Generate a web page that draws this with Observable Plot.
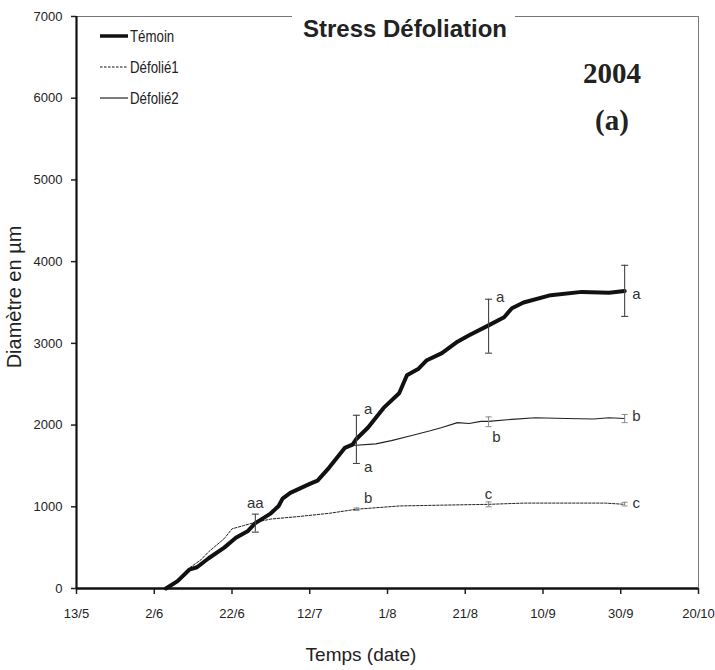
<!DOCTYPE html>
<html><head><meta charset="utf-8">
<script src="https://cdn.jsdelivr.net/npm/d3@7"></script>
<script src="https://cdn.jsdelivr.net/npm/@observablehq/plot@0.6"></script>
<style>
body{margin:0;background:#fff;}
#wrap{position:relative;width:715px;height:670px;overflow:hidden;font-family:"Liberation Sans",Arial,sans-serif;color:#222;}
#wrap > svg{position:absolute;left:0;top:0;}
.ov{position:absolute;white-space:nowrap;line-height:1;}
.mid{transform:translate(-50%,-50%);}
.lft{transform:translateY(-50%) scaleX(0.78);transform-origin:0 50%;}
</style></head><body><div id="wrap"></div>
<script>
// ---------- data ----------
const xTickLabels = ["2004-05-13","2004-06-02","2004-06-22","2004-07-12","2004-08-01","2004-08-21","2004-09-10","2004-09-30","2004-10-20"];
const yTicks = [0,1000,2000,3000,4000,5000,6000,7000];

const temoinDates = ["2004-06-05","2004-06-08","2004-06-11","2004-06-13","2004-06-16","2004-06-20","2004-06-23","2004-06-26","2004-06-28","2004-07-02","2004-07-04","2004-07-05","2004-07-07","2004-07-12","2004-07-14","2004-07-17","2004-07-21","2004-07-23","2004-07-24","2004-07-27","2004-07-31","2004-08-04","2004-08-06","2004-08-09","2004-08-11","2004-08-15","2004-08-19","2004-08-22","2004-08-27","2004-08-31","2004-09-02","2004-09-05","2004-09-12","2004-09-20","2004-09-27","2004-10-01"];
const temoinValues = [0,90,230,260,370,500,620,700,800,920,1010,1100,1170,1280,1320,1480,1720,1760,1830,1970,2210,2390,2610,2690,2790,2880,3020,3100,3220,3320,3430,3500,3590,3630,3620,3640];

const defolie1Dates = ["2004-06-05","2004-06-08","2004-06-11","2004-06-14","2004-06-16","2004-06-20","2004-06-22","2004-06-25","2004-06-28","2004-07-02","2004-07-09","2004-07-17","2004-07-24","2004-08-04","2004-08-15","2004-08-27","2004-09-05","2004-09-19","2004-09-26","2004-10-01"];
const defolie1Values = [0,110,250,350,450,610,730,770,810,850,880,920,970,1010,1020,1030,1045,1045,1045,1030];

const defolie2Dates = ["2004-06-05","2004-06-08","2004-06-11","2004-06-13","2004-06-16","2004-06-20","2004-06-23","2004-06-26","2004-06-28","2004-07-02","2004-07-04","2004-07-05","2004-07-07","2004-07-12","2004-07-14","2004-07-17","2004-07-21","2004-07-23","2004-07-29","2004-08-02","2004-08-07","2004-08-12","2004-08-15","2004-08-19","2004-08-22","2004-08-25","2004-08-27","2004-09-02","2004-09-08","2004-09-16","2004-09-23","2004-09-27","2004-10-01"];
const defolie2Values = [0,90,230,260,370,500,620,700,800,920,1010,1100,1170,1280,1320,1480,1720,1750,1770,1810,1870,1930,1970,2030,2020,2045,2045,2070,2090,2080,2075,2090,2080];

const errDates  = ["2004-06-28","2004-07-24","2004-07-24","2004-08-27","2004-08-27","2004-08-27","2004-10-01","2004-10-01","2004-10-01"];
const errSeries = ["Témoin","Témoin","Défolié1","Témoin","Défolié2","Défolié1","Témoin","Défolié2","Défolié1"];
const errLow    = [690,1530,955,2880,1980,1000,3330,2030,1010];
const errHigh   = [910,2120,985,3540,2100,1060,3955,2130,1055];

const letterDates  = ["2004-06-28","2004-07-27","2004-07-27","2004-07-27","2004-08-30","2004-08-29","2004-08-27","2004-10-04","2004-10-04","2004-10-04"];
const letterValues = [1050,2190,1480,1100,3560,1850,1150,3600,2105,1040];
const letterTexts  = ["aa","a","a","b","a","b","c","a","b","c"];

const seriesNames = ["Témoin","Défolié1","Défolié2"];

// ---------- build ----------
const parse = d3.utcParse("%Y-%m-%d");
const toRows = (ds, vs) => ds.map((d, i) => ({date: parse(d), value: vs[i]}));
const temoin = toRows(temoinDates, temoinValues);
const def1 = toRows(defolie1Dates, defolie1Values);
const def2 = toRows(defolie2Dates, defolie2Values);
const errors = errDates.map((d, i) => ({date: parse(d), series: errSeries[i], low: errLow[i], high: errHigh[i]}));
const errDark = errors.filter(e => e.series === "Témoin");
const errLight = errors.filter(e => e.series !== "Témoin");
const letters = letterDates.map((d, i) => ({date: parse(d), value: letterValues[i], text: letterTexts[i]}));
const xTickDates = xTickLabels.map(parse);

const SANS = '"Liberation Sans",Arial,sans-serif';
const cap = {draw(ctx, size) { const w = Math.sqrt(size / Math.PI); ctx.moveTo(-w, 0); ctx.lineTo(w, 0); }};
const fmt = d => `${d.getUTCDate()}/${d.getUTCMonth() + 1}`;

const chart = Plot.plot({
  width: 715, height: 670,
  marginLeft: 76, marginRight: 17, marginTop: 16, marginBottom: 82,
  style: {fontFamily: SANS, fontSize: "13px", color: "#222", background: "transparent"},
  x: {type: "utc", domain: [xTickDates[0], xTickDates[xTickDates.length - 1]]},
  y: {domain: [yTicks[0], yTicks[yTicks.length - 1]]},
  marks: [
    Plot.frame({stroke: "#777", strokeWidth: 1}),
    Plot.axisY({ticks: yTicks, tickSize: 5, tickPadding: 9, tickFormat: d => String(d), label: null, strokeWidth: 1.5}),
    Plot.axisX({ticks: xTickDates, tickSize: 6, tickPadding: 14, tickFormat: fmt, label: null, strokeWidth: 1.5}),
    Plot.ruleX([xTickDates[0]], {stroke: "#111", strokeWidth: 2.2}),
    Plot.ruleY([yTicks[0]], {stroke: "#111", strokeWidth: 2.6}),
    Plot.line(def1, {x: "date", y: "value", stroke: "#222", strokeWidth: 1, strokeDasharray: "2.5,1.5"}),
    Plot.line(def2, {x: "date", y: "value", stroke: "#222", strokeWidth: 1.1}),
    Plot.line(temoin, {x: "date", y: "value", stroke: "#111", strokeWidth: 4, strokeLinejoin: "round", strokeLinecap: "round"}),
    Plot.ruleX(errDark, {x: "date", y1: "low", y2: "high", stroke: "#444", strokeWidth: 1.1}),
    Plot.dot(errDark, {x: "date", y: "low", symbol: cap, r: 3.5, stroke: "#444", fill: "none", strokeWidth: 1.1}),
    Plot.dot(errDark, {x: "date", y: "high", symbol: cap, r: 3.5, stroke: "#444", fill: "none", strokeWidth: 1.1}),
    Plot.ruleX(errLight, {x: "date", y1: "low", y2: "high", stroke: "#888", strokeWidth: 1}),
    Plot.dot(errLight, {x: "date", y: "low", symbol: cap, r: 3, stroke: "#888", fill: "none", strokeWidth: 1}),
    Plot.dot(errLight, {x: "date", y: "high", symbol: cap, r: 3, stroke: "#888", fill: "none", strokeWidth: 1}),
    Plot.text(letters, {x: "date", y: "value", text: "text", fontSize: 15, fill: "#333", fontFamily: SANS})
  ]
});

const wrap = document.getElementById("wrap");
wrap.appendChild(chart);

function ov(html, cls, style) {
  const el = document.createElement("div");
  el.className = "ov " + cls;
  el.innerHTML = html;
  Object.assign(el.style, style);
  wrap.appendChild(el);
  return el;
}
// title over the frame gap
ov("", "", {left: "292px", top: "8px", width: "223px", height: "18px", background: "#fff"});
ov("Stress Défoliation", "mid", {left: "405px", top: "29px", fontWeight: "bold", fontSize: "24px", color: "#222"});
ov("2004", "mid", {left: "612px", top: "73px", fontFamily: '"Liberation Serif","Times New Roman",serif', fontWeight: "bold", fontSize: "29px", color: "#222"});
ov("(a)", "mid", {left: "612px", top: "120px", fontFamily: '"Liberation Serif","Times New Roman",serif', fontWeight: "bold", fontSize: "29px", color: "#222"});
ov("Diamètre en µm", "", {left: "14px", top: "297px", fontSize: "20px", transform: "translate(-50%,-50%) rotate(-90deg)", color: "#222"});
ov("Temps (date)", "mid", {left: "361px", top: "654px", fontSize: "19px", color: "#222"});

// legend
const legendStyles = [
  {w: 3.5, dash: null},
  {w: 1, dash: "2.5,1.5"},
  {w: 1.1, dash: null}
];
const legendY = [36, 67, 98];
const lsvg = d3.select(wrap).append("svg")
  .attr("width", 715).attr("height", 130)
  .style("position", "absolute").style("left", 0).style("top", 0);
seriesNames.forEach((name, i) => {
  lsvg.append("line").attr("x1", 100).attr("x2", 128).attr("y1", legendY[i]).attr("y2", legendY[i])
    .attr("stroke", "#111").attr("stroke-width", legendStyles[i].w)
    .attr("stroke-dasharray", legendStyles[i].dash);
  ov(name, "lft", {left: "130px", top: legendY[i] + "px", fontSize: "17px", color: "#222"});
});
</script>
</body></html>
